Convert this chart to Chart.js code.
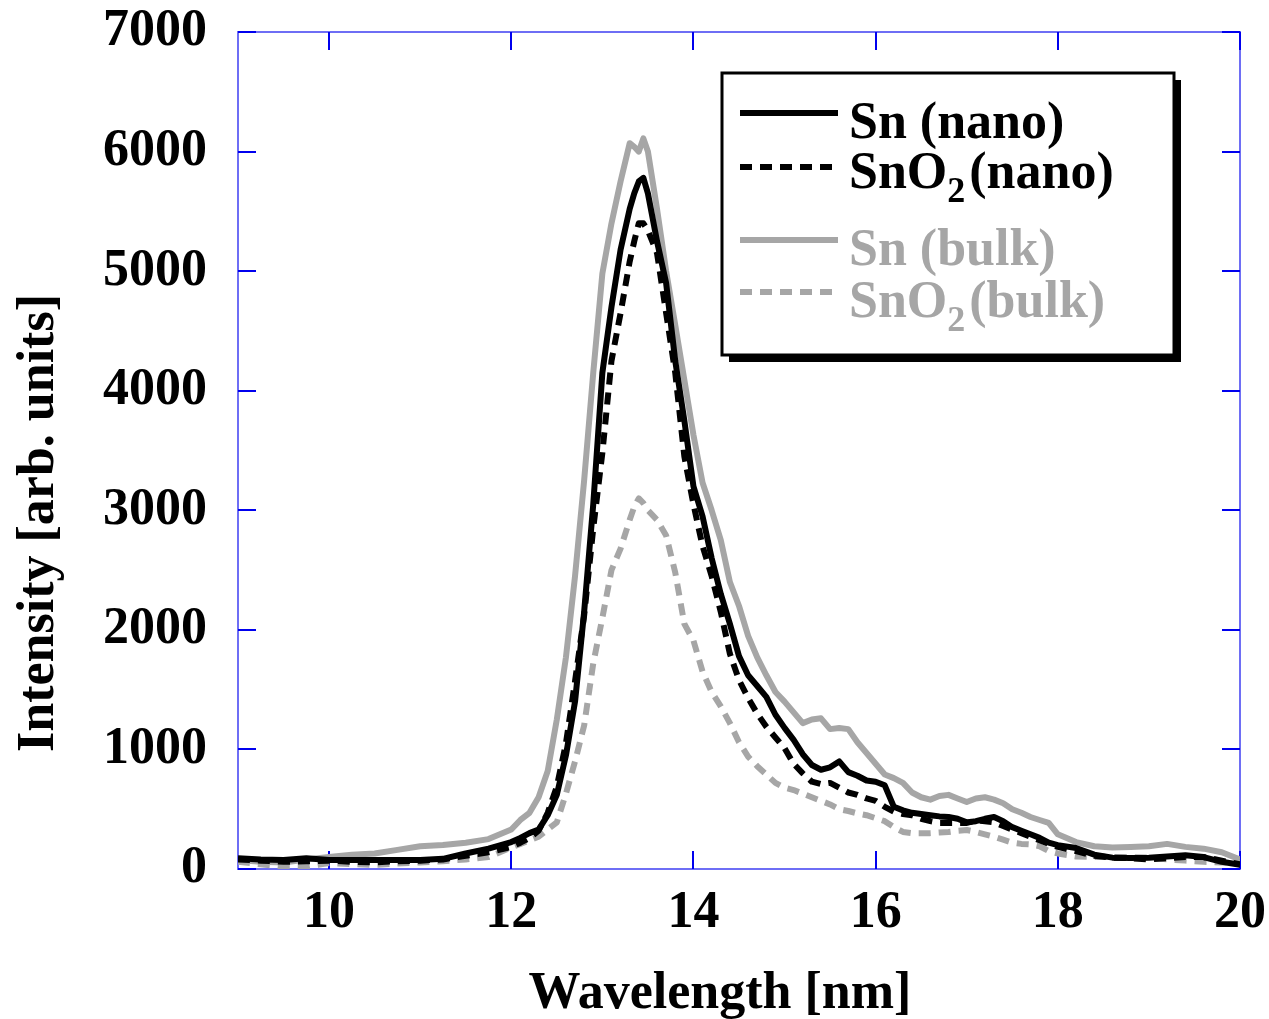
<!DOCTYPE html>
<html>
<head>
<meta charset="utf-8">
<script src="https://cdn.jsdelivr.net/npm/chart.js@4/dist/chart.umd.min.js"></script>
<style>
  body { margin: 0; background: #fff; }
  #wrap { width: 1269px; height: 1019px; position: relative; }
</style>
</head>
<body>
<div id="wrap"><canvas id="chart"></canvas></div>
<script>
// wavelength grid [nm]
const wavelength = [9, 9.25, 9.5, 9.75, 10, 10.25, 10.5, 10.75, 11, 11.25, 11.5, 11.75,
  12, 12.1, 12.2, 12.3, 12.4, 12.5, 12.6, 12.7, 12.8, 12.9,
  13, 13.1, 13.2, 13.3, 13.35, 13.4, 13.45, 13.5, 13.6, 13.7, 13.8, 13.9, 14,
  14.1, 14.2, 14.3, 14.4, 14.5, 14.6, 14.7, 14.8, 14.9, 15,
  15.1, 15.2, 15.3, 15.4, 15.5, 15.6, 15.7, 15.8, 15.9, 16,
  16.1, 16.2, 16.3, 16.4, 16.5, 16.6, 16.7, 16.8, 16.9, 17,
  17.1, 17.2, 17.3, 17.4, 17.5, 17.6, 17.7, 17.8, 17.9, 18,
  18.2, 18.4, 18.6, 18.8, 19, 19.2, 19.4, 19.6, 19.8, 20];

const snNano = [90, 80, 75, 90, 75, 75, 75, 75, 75, 85, 130, 170,
  225, 260, 300, 330, 450, 620, 950, 1400, 2150, 3050,
  4150, 4700, 5180, 5520, 5650, 5750, 5780, 5650, 5250, 4900, 4250, 3750, 3200,
  2950, 2600, 2300, 2050, 1780, 1620, 1530, 1440, 1290, 1180,
  1080, 960, 870, 830, 850, 900, 810, 780, 740, 730,
  700, 520, 490, 470, 460, 450, 440, 435, 420, 390,
  400, 420, 435, 400, 350, 320, 290, 260, 220, 200,
  175, 120, 95, 92, 95, 105, 115, 100, 60, 35];

const sno2Nano = [80, 70, 60, 65, 70, 60, 55, 65, 70, 80, 110, 140,
  185, 220, 260, 320, 470, 690, 1050, 1570, 2120, 2850,
  3480, 4250, 4650, 5080, 5250, 5400, 5400, 5340, 5150, 4650, 4150, 3450, 3050,
  2700, 2450, 2150, 1800, 1580, 1430, 1300, 1190, 1100, 1010,
  880, 800, 730, 710, 720, 680, 640, 620, 590, 570,
  520, 480, 460, 450, 420, 400, 385, 385, 385, 385,
  405, 400, 390, 360, 330, 300, 270, 240, 210, 185,
  150, 110, 95, 90, 80, 90, 100, 100, 70, 40];

const snBulk = [75, 60, 55, 80, 100, 120, 130, 160, 190, 200, 220, 250,
  330, 410, 470, 600, 820, 1250, 1770, 2450, 3250, 4150,
  4980, 5400, 5750, 6070, 6040, 6000, 6110, 6000, 5520, 5000, 4550, 4090, 3630,
  3230, 3000, 2750, 2400, 2200, 1950, 1770, 1620, 1480, 1400,
  1310, 1220, 1250, 1260, 1170, 1180, 1170, 1060, 970, 880,
  790, 760, 720, 640, 600, 580, 610, 620, 590, 560,
  590, 600, 580, 550, 500, 470, 435, 410, 385, 290,
  225, 190, 180, 185, 190, 210, 185, 170, 140, 80];

const sno2Bulk = [60, 40, 20, 20, 50, 40, 35, 45, 55, 65, 80, 100,
  180, 210, 240, 270, 330, 390, 630, 900, 1200, 1720,
  2100, 2500, 2680, 2920, 3030, 3100, 3060, 3000, 2920, 2790, 2480, 2050, 1910,
  1650, 1480, 1360, 1220, 1060, 940, 860, 790, 720, 680,
  660, 630, 600, 570, 540, 500, 485, 465, 450, 425,
  400, 350, 310, 300, 300, 300, 305, 310, 320, 326,
  310, 290, 270, 245, 220, 210, 205, 190, 150, 130,
  105, 100, 100, 100, 95, 80, 70, 60, 55, 50];

const seriesLabels = ['Sn (nano)', 'SnO\u2082(nano)', 'Sn (bulk)', 'SnO\u2082(bulk)'];
const xTicks = [10, 12, 14, 16, 18, 20];
const yTicks = [0, 1000, 2000, 3000, 4000, 5000, 6000, 7000];

const FONT = "'Liberation Serif', 'Times New Roman', serif";
const GRAY = '#a6a6a6';

const toPoints = (ys) => wavelength.map((x, i) => ({ x, y: ys[i] }));

// frame with inward ticks, custom legend box and axis titles
const framePlugin = {
  id: 'frame',
  beforeDatasetsDraw(chart) {
    const { ctx, chartArea: a, scales: { x, y } } = chart;
    ctx.save();
    ctx.strokeStyle = '#6e6ef5';
    ctx.lineWidth = 2;
    ctx.strokeRect(a.left, a.top, a.right - a.left, a.bottom - a.top);
    ctx.strokeStyle = '#0000ee';
    ctx.lineWidth = 2;
    ctx.beginPath();
    xTicks.forEach(v => {
      const px = Math.round(x.getPixelForValue(v));
      ctx.moveTo(px, a.bottom); ctx.lineTo(px, a.bottom - 18);
      ctx.moveTo(px, a.top); ctx.lineTo(px, a.top + 18);
    });
    yTicks.forEach(v => {
      const py = Math.round(y.getPixelForValue(v));
      ctx.moveTo(a.left, py); ctx.lineTo(a.left + 18, py);
      ctx.moveTo(a.right, py); ctx.lineTo(a.right - 18, py);
    });
    ctx.stroke();
    ctx.restore();
  },
  afterDraw(chart) {
    const { ctx } = chart;
    ctx.save();
    // axis titles
    ctx.fillStyle = '#000';
    ctx.font = 'bold 52px ' + FONT;
    ctx.textAlign = 'center';
    ctx.textBaseline = 'alphabetic';
    ctx.fillText('Wavelength [nm]', 720, 1008);
    ctx.save();
    ctx.translate(53, 523);
    ctx.rotate(-Math.PI / 2);
    ctx.fillText('Intensity [arb. units]', 0, 0);
    ctx.restore();

    // legend box with drop shadow
    const bx = 722, by = 73, bw = 452, bh = 282;
    ctx.fillStyle = '#000';
    ctx.fillRect(bx + 7, by + 7, bw, bh);
    ctx.fillStyle = '#fff';
    ctx.fillRect(bx, by, bw, bh);
    ctx.strokeStyle = '#000';
    ctx.lineWidth = 3;
    ctx.strokeRect(bx, by, bw, bh);

    const lineY = [113, 167, 240, 292];
    const baseY = [138, 188, 265, 317];
    chart.data.datasets.forEach((ds, i) => {
      ctx.strokeStyle = ds.borderColor;
      ctx.lineWidth = 6;
      ctx.setLineDash(ds.borderDash || []);
      ctx.beginPath();
      ctx.moveTo(740, lineY[i]);
      ctx.lineTo(838, lineY[i]);
      ctx.stroke();
      ctx.setLineDash([]);

      ctx.fillStyle = ds.borderColor;
      ctx.textAlign = 'left';
      let tx = 849;
      const parts = ds.label.split('\u2082');
      ctx.font = 'bold 52px ' + FONT;
      ctx.fillText(parts[0], tx, baseY[i]);
      if (parts.length > 1) {
        tx += ctx.measureText(parts[0]).width;
        ctx.font = 'bold 36px ' + FONT;
        ctx.fillText('2', tx, baseY[i] + 14);
        tx += ctx.measureText('2').width + 4;
        ctx.font = 'bold 52px ' + FONT;
        ctx.fillText(parts[1], tx, baseY[i]);
      }
    });
    ctx.restore();
  }
};

const lineStyle = { borderWidth: 6, pointRadius: 0, tension: 0, fill: false,
  borderJoinStyle: 'round', borderCapStyle: 'butt' };

new Chart(document.getElementById('chart'), {
  type: 'line',
  data: {
    datasets: [
      { label: seriesLabels[0], data: toPoints(snNano), borderColor: '#000', ...lineStyle },
      { label: seriesLabels[1], data: toPoints(sno2Nano), borderColor: '#000', borderDash: [12, 8], ...lineStyle },
      { label: seriesLabels[2], data: toPoints(snBulk), borderColor: GRAY, ...lineStyle },
      { label: seriesLabels[3], data: toPoints(sno2Bulk), borderColor: GRAY, borderDash: [12, 8], ...lineStyle }
    ]
  },
  options: {
    responsive: true,
    maintainAspectRatio: false,
    animation: false,
    layout: { padding: { top: 32, right: 29, left: 0, bottom: 0 } },
    plugins: { legend: { display: false }, tooltip: { enabled: false } },
    scales: {
      x: {
        type: 'linear', min: 9, max: 20,
        grid: { display: false, drawTicks: false },
        border: { display: false },
        afterBuildTicks: (s) => { s.ticks = xTicks.map(v => ({ value: v })); },
        afterFit: (s) => { s.height = 150; s.paddingLeft = 0; s.paddingRight = 0; },
        ticks: { color: '#000', padding: 19, maxRotation: 0,
          callback: (v) => String(v),
          font: { family: FONT, size: 52, weight: 'bold', lineHeight: 1 } }
      },
      y: {
        type: 'linear', min: 0, max: 7000,
        grid: { display: false, drawTicks: false },
        border: { display: false },
        afterBuildTicks: (s) => { s.ticks = yTicks.map(v => ({ value: v })); },
        afterFit: (s) => { s.width = 238; s.paddingTop = 0; s.paddingBottom = 0; },
        ticks: { color: '#000', padding: 31,
          callback: (v) => String(v),
          font: { family: FONT, size: 52, weight: 'bold', lineHeight: 1 } }
      }
    }
  },
  plugins: [framePlugin]
});
</script>
</body>
</html>
